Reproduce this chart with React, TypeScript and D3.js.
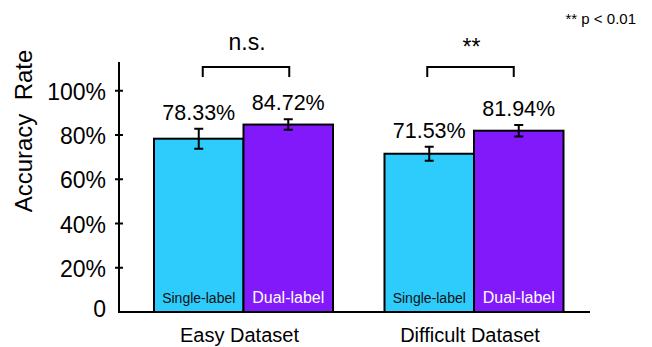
import React, { useEffect, useRef } from 'react'
import * as d3 from 'd3'

// data
const datasets = ['Easy Dataset', 'Difficult Dataset']
const methods = ['Single-label', 'Dual-label']
const singleAcc = [78.33, 71.53]
const dualAcc = [84.72, 81.94]
const singleErr = [4.5, 3.2]
const dualErr = [2.4, 2.6]
const sigMarks = ['n.s.', '**']
const yTicks = [0, 20, 40, 60, 80, 100]

const colors = ['#2ECCFC', '#8219FB']
const textColors = ['#111', '#fff']

export default function App() {
  const ref = useRef<SVGSVGElement>(null)

  useEffect(() => {
    const svg = d3.select(ref.current)
    svg.selectAll('*').remove()
    const font = 'Liberation Sans, Arial, sans-serif'

    const y = d3.scaleLinear().domain([0, 80]).range([312, 135])
    const x0 = d3.scaleBand().domain(datasets).range([154, 563.5]).paddingInner(0.2234).paddingOuter(0)
    const x1 = d3.scaleBand().domain(methods).range([0, x0.bandwidth()])

    const rows = datasets.map((d, i) => ({
      d,
      vals: [singleAcc[i], dualAcc[i]],
      errs: [singleErr[i], dualErr[i]],
    }))

    // axes
    svg.append('line').attr('x1', 119).attr('x2', 119).attr('y1', 62).attr('y2', y(0))
      .attr('stroke', '#000').attr('stroke-width', 2)
    svg.append('line').attr('x1', 118).attr('x2', 590).attr('y1', y(0)).attr('y2', y(0))
      .attr('stroke', '#000').attr('stroke-width', 2)

    const tick = svg.append('g').selectAll('g').data(yTicks).enter().append('g')
    tick.filter(d => d > 0).append('line')
      .attr('x1', 115).attr('x2', 123).attr('y1', d => y(d)).attr('y2', d => y(d))
      .attr('stroke', '#000').attr('stroke-width', 2)
    tick.append('text')
      .attr('x', 106).attr('y', d => y(d) + (d === 0 ? 5 : 9))
      .attr('text-anchor', 'end')
      .style('font-family', font).style('font-size', '23px')
      .text(d => (d === 0 ? '0' : d + '%'))

    svg.append('text')
      .attr('transform', 'translate(32,131) rotate(-90)')
      .attr('text-anchor', 'middle')
      .attr('xml:space', 'preserve')
      .style('white-space', 'pre')
      .style('font-family', font).style('font-size', '24px')
      .text('Accuracy  Rate')

    const groups = svg.selectAll('g.grp').data(rows).enter().append('g')
      .attr('class', 'grp')
      .attr('transform', r => `translate(${x0(r.d)},0)`)

    methods.forEach((m, j) => {
      groups.append('rect')
        .attr('x', x1(m)!)
        .attr('y', r => y(r.vals[j]))
        .attr('width', x1.bandwidth())
        .attr('height', r => y(0) - y(r.vals[j]))
        .attr('fill', colors[j])
        .attr('stroke', '#000').attr('stroke-width', 2)

      const cx = x1(m)! + x1.bandwidth() / 2
      groups.append('path')
        .attr('d', r => {
          const t = y(r.vals[j] + r.errs[j]), b = y(r.vals[j] - r.errs[j])
          return `M${cx - 4.5},${t}H${cx + 4.5}M${cx},${t}V${b}M${cx - 4.5},${b}H${cx + 4.5}`
        })
        .attr('fill', 'none').attr('stroke', '#000').attr('stroke-width', 2)

      groups.append('text')
        .attr('x', cx)
        .attr('y', r => y(r.vals[j] + r.errs[j]) - 9)
        .attr('text-anchor', 'middle')
        .style('font-family', font).style('font-size', '21.5px')
        .text(r => r.vals[j].toFixed(2) + '%')

      groups.append('text')
        .attr('x', cx)
        .attr('y', 303)
        .attr('text-anchor', 'middle')
        .attr('fill', textColors[j])
        .style('font-family', font).style('font-size', j === 0 ? '14px' : '16px')
        .text(m)
    })

    // significance brackets (the second one sits a little left of the bar centres)
    groups.each(function (_r, i) {
      const g = d3.select(this)
      const shift = i === 0 ? 0 : -6
      const a = x1.bandwidth() / 2 + 4 + shift, b = x1.bandwidth() * 1.5 + 1 + shift
      g.append('path')
        .attr('d', `M${a},77V67H${b}V77`)
        .attr('fill', 'none').attr('stroke', '#000').attr('stroke-width', 2)
      g.append('text')
        .attr('x', (a + b) / 2 + 1)
        .attr('y', i === 0 ? 50 : 55)
        .attr('text-anchor', 'middle')
        .style('font-family', font).style('font-size', '23px')
        .text(sigMarks[i])
      g.append('text')
        .attr('x', x0.bandwidth() / 2 - 4)
        .attr('y', 342)
        .attr('text-anchor', 'middle')
        .style('font-family', font).style('font-size', '20px')
        .text(datasets[i])
    })

    svg.append('text')
      .attr('x', 636).attr('y', 24)
      .attr('text-anchor', 'end')
      .style('font-family', font).style('font-size', '15px')
      .text('** p < 0.01')
  }, [])

  return (
    <div style={{ position: 'absolute', left: 0, top: 0 }}>
      <svg ref={ref} width={652} height={347} style={{ display: 'block', background: '#fff' }} />
    </div>
  )
}
